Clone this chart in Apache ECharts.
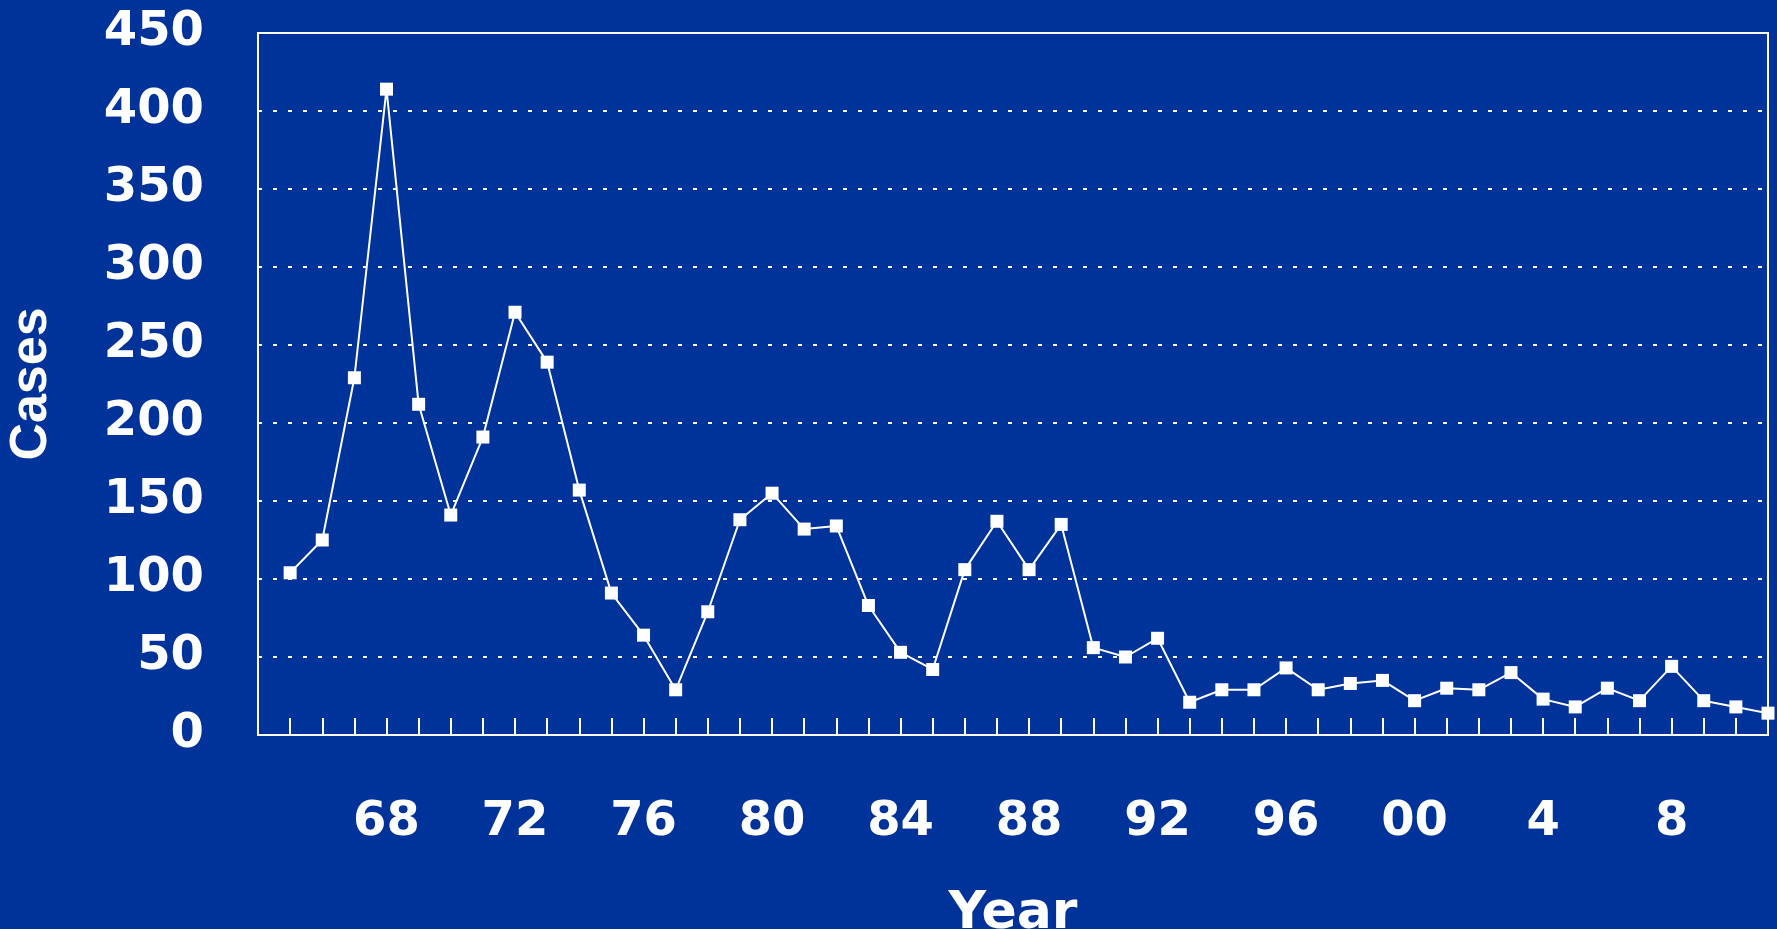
<!DOCTYPE html>
<html>
<head>
<meta charset="utf-8">
<script src="https://cdn.jsdelivr.net/npm/echarts@6/dist/echarts.min.js"></script>
<style>
    html, body { margin: 0; padding: 0; background: #003399; }
    #myChart { width: 1777px; height: 929px; }
</style>
</head>
<body>
<div id="myChart"></div>
<script>
// data
var years = [1965,1966,1967,1968,1969,1970,1971,1972,1973,1974,1975,1976,1977,1978,1979,1980,
    1981,1982,1983,1984,1985,1986,1987,1988,1989,1990,1991,1992,1993,1994,1995,1996,1997,1998,
    1999,2000,2001,2002,2003,2004,2005,2006,2007,2008,2009,2010,2011];
var cases = [104,125,229,414,212,141,191,271,239,157,91,64,29,79,138,155,
    132,134,83,53,42,106,137,106,135,56,50,62,21,29,29,43,29,33,
    35,22,30,29,40,23,18,30,22,44,22,18,14];
var labelYears = [1968,1972,1976,1980,1984,1988,1992,1996,2000,2004,2008];
var labelTexts = ['68','72','76','80','84','88','92','96','00','4','8'];
var yTicks = [0,50,100,150,200,250,300,350,400,450];

var points = [];
for (var i = 0; i < years.length; i++) {
    points.push([years[i], cases[i]]);
}

var myChart = echarts.init(document.getElementById('myChart'));
var option = {
    backgroundColor: '#003399',
    animation: false,
    grid: {
        left: 258, right: 9, top: 33, bottom: 194,
        outerBoundsMode: 'none', containLabel: false,
        show: true, borderColor: '#ffffff', borderWidth: 2
    },
    xAxis: {
        type: 'value',
        min: 1964, max: 2011, interval: 1,
        name: 'Year', nameLocation: 'middle', nameGap: 153,
        nameTextStyle: {color: '#ffffff', fontSize: 52, fontWeight: 'bold', fontFamily: 'DejaVu Sans'},
        axisLine: {show: true, lineStyle: {color: '#ffffff', width: 2}},
        axisTick: {show: true, inside: true, length: 17, lineStyle: {color: '#ffffff', width: 2}},
        splitLine: {show: false},
        axisLabel: {
            color: '#ffffff', fontSize: 48, fontWeight: 'bold', fontFamily: 'DejaVu Sans',
            margin: 64,
            formatter: function (v) {
                var k = labelYears.indexOf(v);
                return k >= 0 ? labelTexts[k] : '';
            }
        }
    },
    yAxis: {
        type: 'value',
        min: yTicks[0], max: yTicks[yTicks.length - 1], interval: 50,
        name: 'Cases', nameLocation: 'middle', nameGap: 200, nameRotate: 90,
        nameTextStyle: {color: '#ffffff', fontSize: 52, fontWeight: 'bold', fontFamily: 'Liberation Sans'},
        axisLine: {show: true, lineStyle: {color: '#ffffff', width: 2}},
        axisTick: {show: false},
        splitLine: {show: true, lineStyle: {color: '#ffffff', width: 2, type: [4, 11]}},
        axisLabel: {color: '#ffffff', fontSize: 48, fontWeight: 'bold', fontFamily: 'DejaVu Sans', margin: 54}
    },
    series: [{
        type: 'line',
        data: points,
        symbol: 'rect',
        symbolSize: 13,
        lineStyle: {color: '#ffffff', width: 2},
        itemStyle: {color: '#ffffff'}
    }]
};
myChart.setOption(option);
</script>
</body>
</html>
